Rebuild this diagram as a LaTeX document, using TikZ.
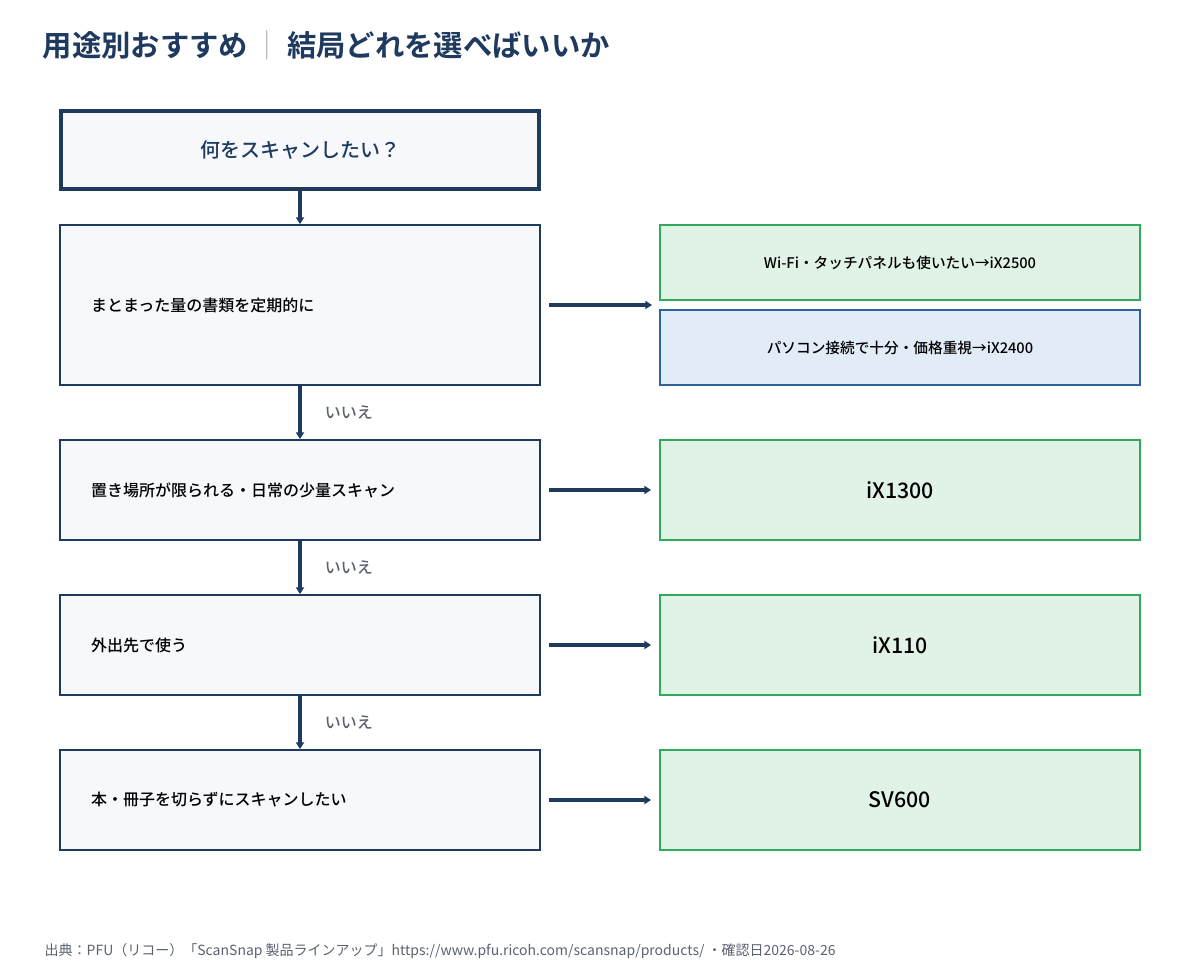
\documentclass[tikz,border=0pt]{standalone}
\usepackage{fontspec}
\setmainfont{Noto Sans CJK JP}
\newfontfamily\bfj{Noto Sans CJK JP Medium}
\newfontfamily\bfb{Noto Sans CJK JP Bold}
\usetikzlibrary{arrows.meta}
\definecolor{navy}{HTML}{1F3A5F}
\definecolor{lbg}{HTML}{F6F8FC}
\definecolor{gfill}{HTML}{E1F2E7}
\definecolor{gline}{HTML}{2EAA5A}
\definecolor{bfill}{HTML}{E2ECF8}
\definecolor{bline}{HTML}{2E63A0}
\definecolor{gray}{HTML}{5A6270}
\begin{document}
\begin{tikzpicture}[x=0.75pt,y=-0.75pt,
 q/.style={draw=navy,fill=lbg,line width=1.4pt,minimum width=480*0.75pt,inner sep=0,text=black,font=\bfj\fontsize{12}{14}\selectfont,text width=418*0.75pt,align=left},
 g/.style={draw=gline,fill=gfill,line width=1.4pt,minimum width=480*0.75pt,inner sep=0,text=black,align=center},
 b/.style={g,draw=bline,fill=bfill},
 arr/.style={draw=navy,line width=2.8pt,-{Triangle[length=5pt,width=6pt]}},
 no/.style={text=gray,font=\bfj\fontsize{12}{14}\selectfont,anchor=west}]
\useasboundingbox (0,0) rectangle (1200,980);
\node[anchor=west,text=navy,font=\bfb\fontsize{22}{26}\selectfont] (title) at (38,45) {用途別おすすめ\,\textcolor{gray!50}{\fontspec{Noto Sans CJK JP Light}｜}\,結局どれを選べばいいか};
\node[draw=navy,fill=lbg,line width=2.6pt,minimum width=478*0.75pt,minimum height=78*0.75pt,text=navy,font=\bfj\fontsize{15}{18}\selectfont] (q0) at (300,150) {何をスキャンしたい？};
\node[q,minimum height=160*0.75pt] (q1) at (300,305) {まとまった量の書類を定期的に};
\node[q,minimum height=100*0.75pt] (q2) at (300,490) {置き場所が限られる・日常の少量スキャン};
\node[q,minimum height=100*0.75pt] (q3) at (300,645) {外出先で使う};
\node[q,minimum height=100*0.75pt] (q4) at (300,800) {本・冊子を切らずにスキャンしたい};
\node[g,minimum height=75*0.75pt,font=\bfj\fontsize{11}{13}\selectfont] (r1a) at (900,262.5) {Wi-Fi・タッチパネルも使いたい→iX2500};
\node[b,minimum height=75*0.75pt,font=\bfj\fontsize{11}{13}\selectfont] (r1b) at (900,347.5) {パソコン接続で十分・価格重視→iX2400};
\node[g,minimum height=100*0.75pt,font=\bfj\fontsize{16}{18}\selectfont] (r2) at (900,490) {iX1300};
\node[g,minimum height=100*0.75pt,font=\bfj\fontsize{16}{18}\selectfont] (r3) at (900,645) {iX110};
\node[g,minimum height=100*0.75pt,font=\bfj\fontsize{16}{18}\selectfont] (r4) at (900,800) {SV600};
\coordinate (j1) at (660,305);
\draw[arr,shorten <=6pt,shorten >=6pt] (q1.east) -- (j1);
\draw[arr,shorten <=6pt,shorten >=6pt] (q2.east) -- (r2.west);
\draw[arr,shorten <=6pt,shorten >=6pt] (q3.east) -- (r3.west);
\draw[arr,shorten <=6pt,shorten >=6pt] (q4.east) -- (r4.west);
\draw[arr] (q0.south) -- (q1.north);
\draw[arr] (q1.south) -- node[no,xshift=14pt] {いいえ} (q2.north);
\draw[arr] (q2.south) -- node[no,xshift=14pt] {いいえ} (q3.north);
\draw[arr] (q3.south) -- node[no,xshift=14pt] {いいえ} (q4.north);
\node[anchor=west,text=gray,font=\fontsize{10.5}{12}\selectfont] (src) at (40,951) {出典：PFU（リコー）「ScanSnap 製品ラインアップ」https://www.pfu.ricoh.com/scansnap/products/ ・確認日2026-08-26};
\end{tikzpicture}
\end{document}
